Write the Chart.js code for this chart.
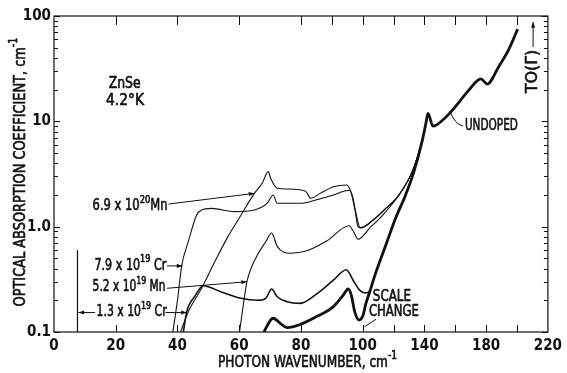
<!DOCTYPE html>
<html>
<head>
<meta charset="utf-8">
<script src="https://cdn.jsdelivr.net/npm/chart.js@4.4.1/dist/chart.umd.min.js"></script>
<style>
  html, body { margin: 0; padding: 0; background: #fff; }
  #wrap { width: 567px; height: 373px; position: relative; }
</style>
</head>
<body>
<div id="wrap"><canvas id="chart"></canvas></div>
<script>
(() => {
  // wavenumber (cm-1) and absorption coefficient (cm-1)
  const undopedX = [68, 70.2, 71, 73.4, 75.5, 79.8, 85.1, 90.5, 93.7, 95.3, 96.3, 97.4, 98.8, 100.3, 101.8, 104.5, 108.6, 115, 121.3, 127.8, 133.2, 138.7, 140.9, 142.3, 145.5, 151.9, 158.2, 168.8, 176.5, 180.7, 188.1, 194.5, 200.4];
  const undopedY = [0.1, 0.13, 0.135, 0.12, 0.11, 0.118, 0.14, 0.174, 0.224, 0.256, 0.224, 0.156, 0.13, 0.145, 0.18, 0.24, 0.37, 0.67, 1.2, 2.0, 3.33, 6.67, 9.5, 11.9, 9.0, 10.3, 12.8, 19.8, 25.3, 22.6, 33, 47.6, 75];

  const mn69e20X = [41, 43.5, 47.8, 52.1, 56.3, 60.6, 64.9, 67.5, 69.4, 70.2, 72.3, 75.5, 81.4, 83.2, 86.2, 90.5, 94.7, 96, 97.4, 98.5, 99.5, 106.6, 115, 123.5, 132.1, 138.7, 140.9];
  const mn69e20Y = [0.1, 0.156, 0.26, 0.466, 0.8, 1.29, 2.07, 2.6, 3.33, 2.86, 2.32, 2.28, 2.18, 1.86, 2.07, 2.39, 2.49, 2.22, 1.49, 1.0, 0.97, 1.15, 1.49, 2.0, 3.33, 6.67, 9.5];

  const cr79e19X = [38.5, 40, 41.4, 43.5, 46.2, 47.8, 51, 58.5, 64.9, 69.1, 71, 72.3, 79.8, 85.1, 90.5, 95.6, 96.6, 97.8, 99.2, 106.6, 115, 123.5, 132.1, 138.7, 140.9];
  const cr79e19Y = [0.1, 0.2, 0.43, 0.72, 1.29, 1.44, 1.49, 1.39, 1.44, 1.67, 2.0, 1.67, 1.67, 1.8, 2.0, 2.22, 2.0, 1.35, 0.98, 1.15, 1.49, 2.0, 3.33, 6.67, 9.5];

  const mn52e19X = [60.1, 62.5, 63.8, 65.9, 68.6, 70.5, 72.3, 76.6, 81.9, 88.3, 95.6, 97, 98.5, 104.5, 113, 123.5, 132.1, 138.7, 140.9];
  const mn52e19Y = [0.1, 0.3, 0.4, 0.54, 0.72, 0.87, 0.65, 0.56, 0.59, 0.73, 1.02, 0.9, 0.76, 0.97, 1.29, 2.0, 3.33, 6.67, 9.5];

  const cr13e19X = [41.9, 43, 45.7, 48.3, 54.2, 60.6, 65.9, 68.6, 70.5, 72.3, 75.5, 79.8, 85.1, 90.5, 94.7, 96.9, 99, 101.8, 104.5];
  const cr13e19Y = [0.1, 0.156, 0.22, 0.275, 0.24, 0.209, 0.2, 0.209, 0.256, 0.216, 0.194, 0.187, 0.23, 0.31, 0.39, 0.31, 0.25, 0.235, 0.24];

  // scale bar drawn near the left axis
  const markerX = [7.6, 7.6];
  const markerY = [0.1, 0.6];

  const xTickValues = [20, 40, 60, 80, 100, 120, 140, 160, 180, 200];
  const yDecades = [0.1, 1, 10, 100];
  const yDecadeLabels = ["0.1", "1.0", "10", "100"];

  // the wavenumber axis is compressed by 2 above 100 cm-1 ("scale change")
  const AXIS_BREAK = 100;
  const toAxis = (x) => (x <= AXIS_BREAK ? x : AXIS_BREAK + (x - AXIS_BREAK) / 2);
  const fromAxis = (t) => (t <= AXIS_BREAK ? t : AXIS_BREAK + (t - AXIS_BREAK) * 2);

  const FONT = "'Liberation Sans Narrow', 'DejaVu Sans Condensed', 'Arial Narrow', 'Liberation Sans', sans-serif";
  const INK = "#111";

  function points(xs, ys) {
    return xs.map((x, i) => ({ x: toAxis(x), y: ys[i] }));
  }

  function curve(xs, ys, width) {
    return {
      data: points(xs, ys),
      borderColor: INK,
      borderWidth: width,
      pointRadius: 0,
      fill: false,
      cubicInterpolationMode: "monotone"
    };
  }

  function font(size) {
    return `${size}px ${FONT}`;
  }

  // draws text with optional superscripts, squeezed to a given width
  function drawRich(ctx, parts, x, y, size, align, width) {
    const supSize = Math.round(size * 0.72);
    let natural = 0;
    parts.forEach((p) => {
      ctx.font = font(p.sup ? supSize : size);
      natural += ctx.measureText(p.t).width;
    });
    const k = width ? width / natural : 1;
    ctx.save();
    ctx.translate(align === "center" ? x - (natural * k) / 2 : x, y);
    ctx.scale(k, 1);
    ctx.textAlign = "left";
    ctx.textBaseline = "middle";
    ctx.lineWidth = 0.6;
    ctx.lineJoin = "round";
    let cx = 0;
    parts.forEach((p) => {
      ctx.font = font(p.sup ? supSize : size);
      const ty = p.sup ? -size * 0.42 : 0;
      ctx.fillText(p.t, cx, ty);
      ctx.strokeText(p.t, cx, ty);
      cx += ctx.measureText(p.t).width;
    });
    ctx.restore();
  }

  function arrow(ctx, x1, y1, x2, y2, head = 6) {
    ctx.beginPath();
    ctx.moveTo(x1, y1);
    ctx.lineTo(x2, y2);
    ctx.stroke();
    const a = Math.atan2(y2 - y1, x2 - x1);
    ctx.beginPath();
    ctx.moveTo(x2, y2);
    ctx.lineTo(x2 - head * Math.cos(a - 0.35), y2 - head * Math.sin(a - 0.35));
    ctx.lineTo(x2 - head * Math.cos(a + 0.35), y2 - head * Math.sin(a + 0.35));
    ctx.closePath();
    ctx.fill();
  }

  const frameTicks = {
    id: "frameTicks",
    afterDatasetsDraw(chart) {
      const { ctx, chartArea: a, scales } = chart;
      const xs = scales.x;
      const ys = scales.y;
      ctx.save();
      ctx.strokeStyle = INK;
      ctx.lineWidth = 1.2;
      ctx.strokeRect(a.left, a.top, a.right - a.left, a.bottom - a.top);

      ctx.lineWidth = 1;
      ctx.beginPath();
      xTickValues.forEach((v) => {
        const px = Math.round(xs.getPixelForValue(toAxis(v))) + 0.5;
        ctx.moveTo(px, a.bottom);
        ctx.lineTo(px, a.bottom - 7);
        ctx.moveTo(px, a.top);
        ctx.lineTo(px, a.top + 9);
      });
      const px90 = Math.round(xs.getPixelForValue(toAxis(90))) + 0.5;
      ctx.moveTo(px90, a.top);
      ctx.lineTo(px90, a.top + 9);

      yDecades.forEach((d, i) => {
        const py = Math.round(ys.getPixelForValue(d)) + 0.5;
        ctx.moveTo(a.left, py);
        ctx.lineTo(a.left + 6, py);
        ctx.moveTo(a.right, py);
        ctx.lineTo(a.right - 6, py);
        if (i === yDecades.length - 1) return;
        for (let m = 2; m <= 9; m++) {
          const pm = Math.round(ys.getPixelForValue(d * m)) + 0.5;
          ctx.moveTo(a.left, pm);
          ctx.lineTo(a.left + 4, pm);
          ctx.moveTo(a.right, pm);
          ctx.lineTo(a.right - 4, pm);
        }
      });
      ctx.stroke();
      ctx.restore();
    }
  };

  const notes = {
    id: "notes",
    afterDraw(chart) {
      const { ctx, scales } = chart;
      const X = (x) => scales.x.getPixelForValue(toAxis(x));
      const Y = (v) => scales.y.getPixelForValue(v);
      ctx.save();
      ctx.fillStyle = INK;
      ctx.strokeStyle = INK;
      ctx.lineWidth = 1;

      drawRich(ctx, [{ t: "ZnSe" }], X(22.9), Y(22.6), 15, "center", 32);
      drawRich(ctx, [{ t: "4.2°K" }], X(23), Y(15.6), 15, "center", 38);

      drawRich(ctx, [{ t: "6.9 x 10" }, { t: "20", sup: true }, { t: "Mn" }], X(12.5), Y(1.57), 15, "left", 75);
      ctx.lineWidth = 1;
      arrow(ctx, X(37.1), Y(1.64), X(64.9), Y(2.07));

      drawRich(ctx, [{ t: "7.9 x 10" }, { t: "19", sup: true }, { t: " Cr" }], X(13.1), Y(0.424), 15, "left", 72);
      arrow(ctx, X(36.6), Y(0.424), X(41.6), Y(0.424));

      drawRich(ctx, [{ t: "5.2 x 10" }, { t: "19", sup: true }, { t: " Mn" }], X(12.5), Y(0.267), 15, "left", 73);
      arrow(ctx, X(36.6), Y(0.26), X(62.5), Y(0.3));

      drawRich(ctx, [{ t: "1.3 x 10" }, { t: "19", sup: true }, { t: " Cr" }], X(13.8), Y(0.153), 15, "left", 70);
      arrow(ctx, X(13.3), Y(0.153), X(7.9), Y(0.153));
      arrow(ctx, X(36.1), Y(0.153), X(43), Y(0.153));

      drawRich(ctx, [{ t: "SCALE" }], X(118.9), Y(0.213), 15, "center", 38);
      drawRich(ctx, [{ t: "CHANGE" }], X(120.2), Y(0.155), 15, "center", 50);
      ctx.beginPath();
      ctx.moveTo(X(108.6), Y(0.132));
      ctx.lineTo(X(101.2), Y(0.112));
      ctx.stroke();

      drawRich(ctx, [{ t: "UNDOPED" }], X(166.2), Y(9.04), 15, "left", 53);
      ctx.beginPath();
      ctx.moveTo(X(156.6), Y(12.4));
      ctx.quadraticCurveTo(X(159.5), Y(9.4), X(165), Y(9.04));
      ctx.stroke();

      // TO(Γ) arrow on the right
      ctx.save();
      ctx.translate(X(210.4), Y(18.6));
      ctx.rotate(-Math.PI / 2);
      drawRich(ctx, [{ t: "TO(Γ)" }], 0, 0, 15, "left", 43);
      ctx.restore();
      arrow(ctx, X(210.4), Y(50.8), X(210.4), Y(87.7), 6);

      // axis titles
      drawRich(ctx, [{ t: "PHOTON WAVENUMBER, cm" }, { t: "-1", sup: true }], 307.5, 363, 16, "center", 179);
      ctx.save();
      ctx.translate(21, 172);
      ctx.rotate(-Math.PI / 2);
      drawRich(ctx, [{ t: "OPTICAL ABSORPTION COEFFICIENT, cm" }, { t: "-1", sup: true }], 0, 0, 16, "center", 269);
      ctx.restore();

      ctx.restore();
    }
  };

  new Chart(document.getElementById("chart").getContext("2d"), {
    type: "line",
    data: {
      datasets: [
        curve(undopedX, undopedY, 2.8),
        curve(mn69e20X, mn69e20Y, 1.1),
        curve(cr79e19X, cr79e19Y, 1.1),
        curve(mn52e19X, mn52e19Y, 1.1),
        curve(cr13e19X, cr13e19Y, 1.6),
        { data: points(markerX, markerY), borderColor: INK, borderWidth: 1.2, pointRadius: 0 }
      ]
    },
    options: {
      responsive: true,
      maintainAspectRatio: false,
      animation: false,
      devicePixelRatio: 1,
      layout: { padding: { left: 0, top: 16, right: 13, bottom: 0 } },
      plugins: { legend: { display: false }, tooltip: { enabled: false } },
      scales: {
        x: {
          type: "linear",
          min: 0,
          max: 160,
          grid: { display: false, drawTicks: false },
          border: { display: false },
          ticks: {
            stepSize: 20,
            padding: 5,
            color: INK,
            font: { family: FONT, size: 15, weight: "bold" },
            maxRotation: 0,
            autoSkip: false,
            callback: (v) => String(fromAxis(v))
          },
          afterFit: (s) => { s.height = 41; }
        },
        y: {
          type: "logarithmic",
          min: 0.1,
          max: 100,
          grid: { display: false, drawTicks: false },
          border: { display: false },
          ticks: {
            padding: 3,
            color: INK,
            font: { family: FONT, size: 15, weight: "bold" },
            autoSkip: false,
            callback: (v) => {
              const i = yDecades.findIndex((d) => Math.abs(Math.log10(v) - Math.log10(d)) < 1e-6);
              return i >= 0 ? yDecadeLabels[i] : "";
            }
          },
          afterFit: (s) => { s.width = 54; }
        }
      }
    },
    plugins: [frameTicks, notes]
  });
})();
</script>
</body>
</html>
